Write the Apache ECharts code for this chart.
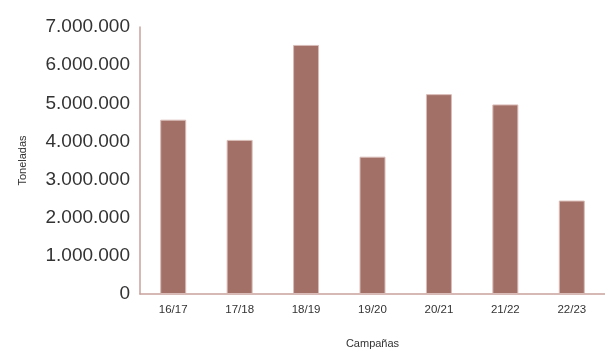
<!DOCTYPE html>
<html>
<head>
<meta charset="utf-8">
<script src="https://cdn.jsdelivr.net/npm/echarts@6/dist/echarts.min.js"></script>
<style>
  html, body { margin: 0; padding: 0; background: #fff; overflow: hidden; }
  #chart { width: 605px; height: 354px; }
</style>
</head>
<body>
<div id="chart"></div>
<script>
// Campaign labels and tonnage per campaign
const campaigns = ['16/17', '17/18', '18/19', '19/20', '20/21', '21/22', '22/23'];
const tonnes = [4570000, 4040000, 6530000, 3600000, 5240000, 4970000, 2450000];
const yTicks = [0, 1000000, 2000000, 3000000, 4000000, 5000000, 6000000, 7000000];

const fmt = v => String(Math.round(v)).replace(/\B(?=(\d{3})+(?!\d))/g, '.');
const font = '"Liberation Sans", Arial, sans-serif';
const axisColor = '#c9a29c';

const chart = echarts.init(document.getElementById('chart'), null, { renderer: 'canvas', width: 605, height: 354 });
chart.setOption({
  animation: false,
  grid: { left: 140, right: -2, top: 27, height: 270, containLabel: false },
  xAxis: {
    type: 'category',
    data: campaigns,
    name: 'Campañas',
    nameLocation: 'middle',
    nameGap: 44,
    nameTextStyle: { fontFamily: font, fontSize: 11, color: '#333' },
    axisLine: { show: true, lineStyle: { color: axisColor, width: 1.5 } },
    axisTick: { show: false },
    axisLabel: { fontFamily: font, fontSize: 11.5, color: '#333', margin: 10 }
  },
  yAxis: {
    type: 'value',
    min: yTicks[0],
    max: yTicks[yTicks.length - 1],
    interval: 1000000,
    name: 'Toneladas',
    nameLocation: 'middle',
    nameGap: 112,
    nameTextStyle: { fontFamily: font, fontSize: 11, color: '#333' },
    axisLine: { show: true, lineStyle: { color: axisColor, width: 1.5 } },
    axisTick: { show: false },
    splitLine: { show: false },
    axisLabel: { fontFamily: font, fontSize: 19, color: '#333', margin: 10, formatter: fmt }
  },
  series: [{
    type: 'bar',
    data: tonnes,
    barWidth: 26,
    itemStyle: { color: '#a37068', borderColor: '#d9bcb7', borderWidth: 1 }
  }]
});
</script>
</body>
</html>
